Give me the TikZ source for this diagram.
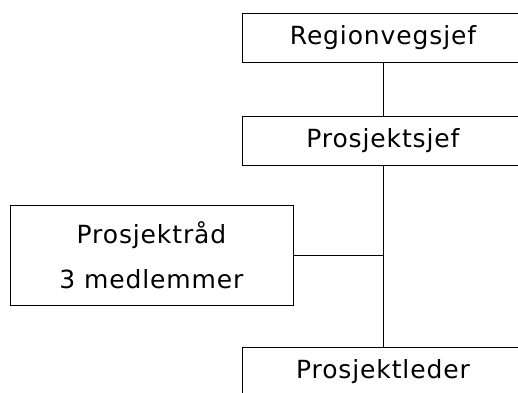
\documentclass[tikz,border=0pt]{standalone}
\usepackage{fontspec}
\setmainfont{DejaVu Sans}[LetterSpace=3.5]
\begin{document}
\begin{tikzpicture}[x=1pt,y=-1pt,
  orgbox/.style={draw=black, line width=0.9pt, fill=white, inner sep=0pt,
    minimum width=282pt, minimum height=49pt, font=\fontsize{25}{30}\selectfont},
  link/.style={draw=black, line width=0.9pt}]
  \useasboundingbox (0,0) rectangle (518,392);
  \clip (0,0) rectangle (518,392);
  \fill[white] (0,0) rectangle (518,392);
  % hierarchy boxes
  \node[orgbox] (region) at (383,37.5) {Regionvegsjef};
  \node[orgbox] (psjef) at (383,141) {Prosjektsjef};
  \node[orgbox, minimum width=283pt, minimum height=100pt, align=center,
        font=\fontsize{25}{45}\selectfont] (raad) at (151.5,255) {Prosjektråd\\3 medlemmer};
  \node[orgbox] (leder) at (383,372) {Prosjektleder};
  % connectors
  \coordinate (branch) at (psjef.south |- raad.east);
  \draw[link] (region) -- (psjef);
  \draw[link] (psjef) -- (leder);
  \draw[link] (raad.east) -- (branch);
\end{tikzpicture}
\end{document}
